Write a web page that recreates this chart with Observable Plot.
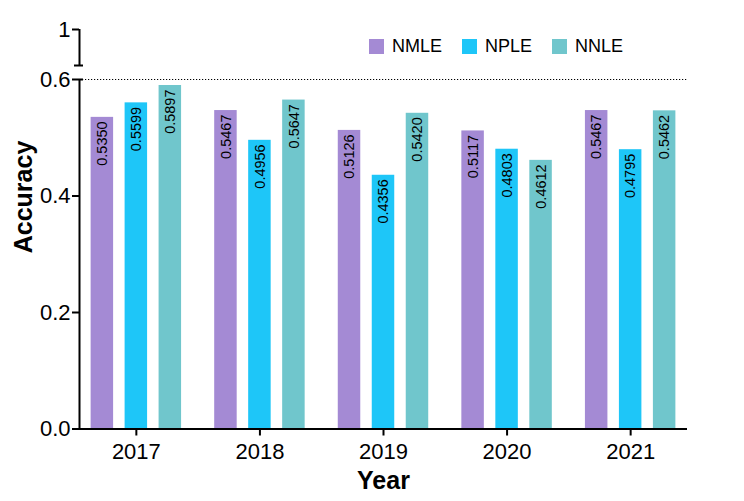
<!DOCTYPE html>
<html><head><meta charset="utf-8">
<script src="https://cdn.jsdelivr.net/npm/d3@7"></script>
<script src="https://cdn.jsdelivr.net/npm/@observablehq/plot@0.6"></script>
<style>
html,body{margin:0;padding:0;background:#fff;overflow:hidden}
#wrap{position:relative;width:744px;height:501px;font-family:"Liberation Sans",Arial,Helvetica,sans-serif;color:#000}
#legend{position:absolute;left:369px;top:39px;display:flex;gap:20px;font-size:18px;line-height:15px}
#legend .item{display:flex;align-items:center;gap:8px}
#legend .sw{width:15px;height:15px;display:inline-block}
.lab{position:absolute;font-weight:bold;font-size:25px;white-space:nowrap;transform:translate(-50%,-50%)}
#ylab{left:23px;top:197px;transform:translate(-50%,-50%) rotate(-90deg)}
#xlab{left:383.5px;top:480px}
</style></head><body>
<div id="wrap"></div>
<script>
const years = [2017, 2018, 2019, 2020, 2021];
const series = ["NMLE", "NPLE", "NNLE"];
const NMLE = [0.5350, 0.5467, 0.5126, 0.5117, 0.5467];
const NPLE = [0.5599, 0.4956, 0.4356, 0.4803, 0.4795];
const NNLE = [0.5897, 0.5647, 0.5420, 0.4612, 0.5462];
const colors = ["#a48ad4", "#1ec6f8", "#70c6cc"];
const yTicks = [0, 0.2, 0.4, 0.6];
const yTopTicks = [1];

const values = {NMLE, NPLE, NNLE};
const data = years.flatMap((year, j) =>
  series.map((s, i) => ({year, series: s, index: i, value: values[s][j]})));

// layout (in year units of the x scale)
const step = 0.275, bw = 0.182;
const xmin = 2016.54, xmax = 2021.46;
const center = d => d.year + (d.index - 1) * step;

const font = '"Liberation Sans", Arial, Helvetica, sans-serif';

const chart = Plot.plot({
  width: 744, height: 501,
  marginLeft: 79, marginRight: 57, marginTop: 29, marginBottom: 72.5,
  x: {type: "linear", domain: [xmin, xmax], axis: null},
  y: {type: "linear", domain: [0, 0.6, 0.8, 1], range: [428.5, 79, 65, 29], axis: null},
  color: {domain: series, range: colors},
  style: {fontFamily: font, background: "white", color: "black"},
  marks: [
    Plot.ruleY([0.6], {stroke: "black", strokeWidth: 1.2, strokeDasharray: "1.2,1.8"}),
    Plot.rectY(data, {
      x1: d => center(d) - bw / 2,
      x2: d => center(d) + bw / 2,
      y1: 0, y2: "value", fill: "series"
    }),
    Plot.text(data, {
      x: center, y: "value", text: d => d.value.toFixed(4),
      rotate: -90, textAnchor: "end", lineAnchor: "middle",
      dy: 4, fontSize: 14.5, fill: "black"
    }),
    Plot.ruleY([0], {stroke: "black", strokeWidth: 2}),
    Plot.ruleX([xmin], {y1: 0, y2: 0.6, stroke: "black", strokeWidth: 2}),
    Plot.ruleX([xmin], {y1: 0.8, y2: 1, stroke: "black", strokeWidth: 2}),
    Plot.axisY({
      ticks: [...yTicks, ...yTopTicks],
      tickFormat: d => d === 1 ? "1" : d.toFixed(1),
      tickSize: 7, tickPadding: 2, fontSize: 22, strokeWidth: 2, label: null
    }),
    Plot.axisY({ticks: [0.6, 0.8], tickFormat: () => "", tickSize: -4, strokeWidth: 2, label: null}),
    Plot.axisY({ticks: [0.8], tickFormat: () => "", tickSize: 5, strokeWidth: 2, label: null}),
    Plot.axisX({
      ticks: years, tickFormat: "d",
      tickSize: 7, tickPadding: 7, fontSize: 22, strokeWidth: 2, label: null
    })
  ]
});

const wrap = document.getElementById("wrap");
wrap.appendChild(chart);

const legend = document.createElement("div");
legend.id = "legend";
series.forEach((s, i) => {
  const item = document.createElement("div");
  item.className = "item";
  const sw = document.createElement("span");
  sw.className = "sw";
  sw.style.background = colors[i];
  const t = document.createElement("span");
  t.textContent = s;
  item.appendChild(sw); item.appendChild(t);
  legend.appendChild(item);
});
wrap.appendChild(legend);

const ylab = document.createElement("div");
ylab.id = "ylab"; ylab.className = "lab"; ylab.textContent = "Accuracy";
wrap.appendChild(ylab);
const xlab = document.createElement("div");
xlab.id = "xlab"; xlab.className = "lab"; xlab.textContent = "Year";
wrap.appendChild(xlab);
</script>
</body></html>
